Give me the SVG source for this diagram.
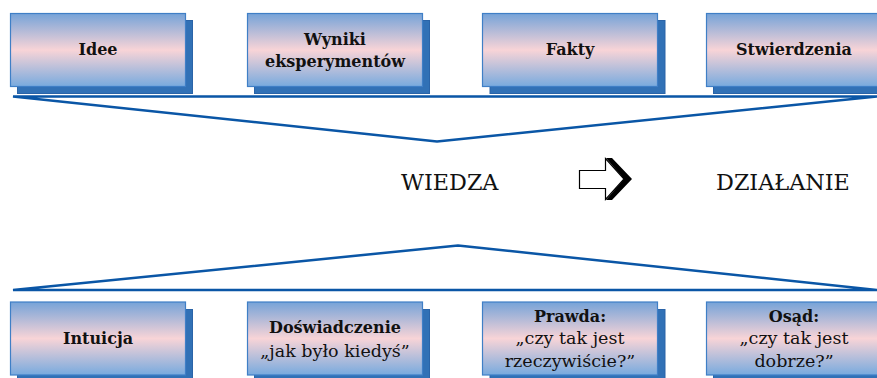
<svg xmlns="http://www.w3.org/2000/svg" width="877" height="378" viewBox="0 0 877 378">
<defs>
<linearGradient id="g" x1="0" y1="0" x2="0" y2="1">
<stop offset="0" stop-color="#76a3d8"/>
<stop offset="0.5" stop-color="#f8d4d7"/>
<stop offset="1" stop-color="#78aade"/>
</linearGradient>
</defs>
<style>
.sh{fill:#3171b6;stroke:#2a64a8;stroke-width:1}
.bx{fill:url(#g);stroke:#3f7fc6;stroke-width:1.2}
text{font-family:"DejaVu Serif","Liberation Serif",serif;fill:#111}
.b{font-weight:bold;font-size:16px;text-anchor:middle}
.r{font-size:17.5px;text-anchor:middle}
.big{font-size:22.3px}
.ln{fill:none;stroke:#0a56a6;stroke-width:2.5;stroke-linejoin:bevel}
</style>
<g id="connectors">
<polygon class="ln" points="13,96.5 877,96.5 437,141.5"/>
<polygon class="ln" points="13,290 877,290 458,245.5"/>
</g>
<g id="idee">
<rect class="sh" x="17.5" y="20.5" width="175" height="73"/>
<rect class="bx" x="10.5" y="13.5" width="175" height="73"/>
<text class="b" x="98" y="55">Idee</text>
</g>
<g id="wyniki">
<rect class="sh" x="254.5" y="20.5" width="175" height="73"/>
<rect class="bx" x="247.5" y="13.5" width="175" height="73"/>
<text class="b" x="335" y="45">Wyniki</text>
<text class="b" x="335" y="67">eksperymentów</text>
</g>
<g id="fakty">
<rect class="sh" x="490" y="20.5" width="175" height="73"/>
<rect class="bx" x="482.5" y="13.5" width="175" height="73"/>
<text class="b" x="570" y="55">Fakty</text>
</g>
<g id="stwierdzenia">
<rect class="sh" x="713.5" y="20.5" width="175" height="73"/>
<rect class="bx" x="706.5" y="13.5" width="175" height="73"/>
<text class="b" x="794" y="55">Stwierdzenia</text>
</g>
<g id="wiedza">
<text class="big" x="401" y="190">WIEDZA</text>
</g>
<g id="arrow">
<polygon points="606,158 612,158 632,179 612,200 606,200 624,179" fill="#000"/>
<polygon points="579.5,170.5 605.5,170.5 605.5,158.5 624,179 605.5,199.5 605.5,188.5 579.5,188.5" fill="#fff" stroke="#000" stroke-width="1.2" stroke-linejoin="miter"/>
</g>
<g id="dzialanie">
<text class="big" x="716" y="190">DZIAŁANIE</text>
</g>
<g id="intuicja">
<rect class="sh" x="17.5" y="309.5" width="175" height="73"/>
<rect class="bx" x="10.5" y="302" width="175" height="73"/>
<text class="b" x="98" y="343.5">Intuicja</text>
</g>
<g id="doswiadczenie">
<rect class="sh" x="254.5" y="309.5" width="175" height="73"/>
<rect class="bx" x="247.5" y="302" width="175" height="73"/>
<text class="b" x="335" y="333">Doświadczenie</text>
<text class="r" x="335" y="357">„jak było kiedyś”</text>
</g>
<g id="prawda">
<rect class="sh" x="490" y="309.5" width="175" height="73"/>
<rect class="bx" x="482.5" y="302" width="175" height="73"/>
<text class="b" x="570" y="322">Prawda:</text>
<text class="r" x="570" y="344">„czy tak jest</text>
<text class="r" x="570" y="367">rzeczywiście?”</text>
</g>
<g id="osad">
<rect class="sh" x="713.5" y="309.5" width="175" height="73"/>
<rect class="bx" x="706.5" y="302" width="175" height="73"/>
<text class="b" x="794" y="322">Osąd:</text>
<text class="r" x="794" y="344">„czy tak jest</text>
<text class="r" x="794" y="367">dobrze?”</text>
</g>
</svg>
